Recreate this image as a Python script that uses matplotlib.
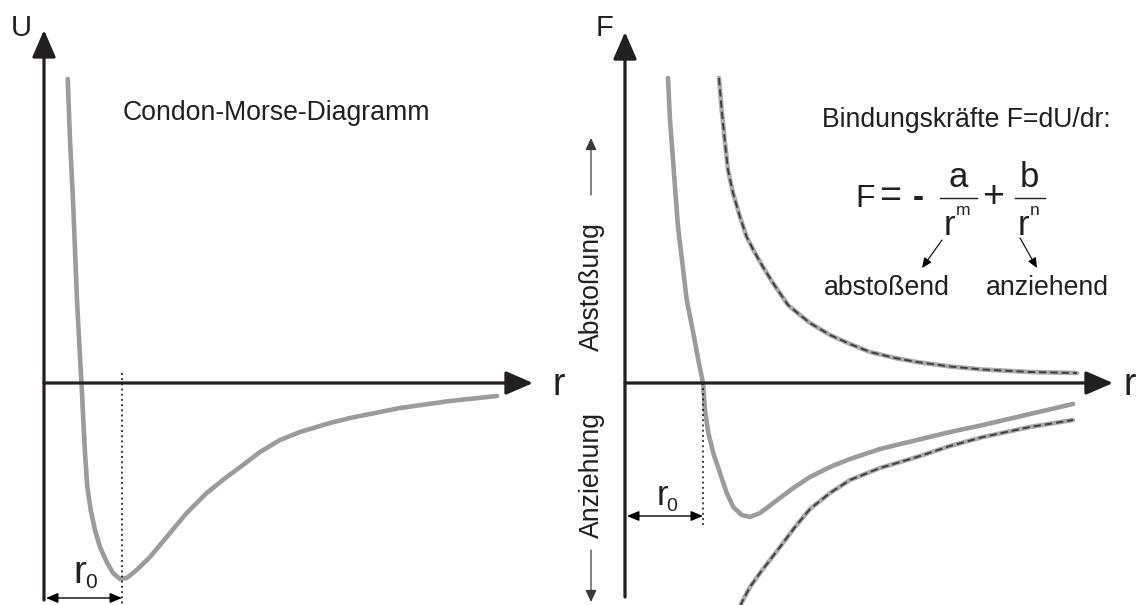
import matplotlib
matplotlib.use('Agg')
import matplotlib.pyplot as plt

plt.rcParams['font.family'] = ['Liberation Sans', 'DejaVu Sans']

# Condon-Morse potential U(r), left panel
r_u = [23.7, 26, 29, 33, 36.7, 37.7, 39.3, 41, 43.3, 46.7, 51, 56, 62.7, 69, 76, 82.7,
       92.7, 106, 122.7, 142.7, 162.7, 182.7, 199, 216, 236, 256, 286, 306, 356, 406, 453]
u = [304, 243, 183, 83, 13, -4, -37, -70, -104, -127, -147, -164, -179, -190, -196, -195,
     -187, -174, -154, -130, -110, -94, -82, -69, -57, -49, -40, -35, -25, -18, -13]

# binding force F(r), right panel
r_f = [43, 45, 48, 53, 57, 61.7, 68.3, 73.3, 78, 80, 83.3, 88.3, 95, 101.7, 108.3, 116.7,
       125, 135, 148.3, 168.3, 185, 205, 225, 255, 292, 325, 358, 405, 448]
f = [305, 263, 223, 156, 123, 83, 50, 23, 0, -27, -50, -70, -90, -110, -124, -132,
     -134, -130, -120, -105, -94, -84, -76, -66, -57, -49, -42, -31, -21]

# repulsive term b/r^n
r_rep = [94, 96.7, 100, 103, 108, 115, 121.7, 130, 138, 148, 163, 175, 185, 205, 225,
         245, 270, 292, 325, 358, 405, 452]
f_rep = [305, 273, 240, 213, 190, 166, 146, 130, 116, 100, 78, 68, 60, 48, 39,
         31, 25, 21, 16.5, 13.5, 11, 10]

# attractive term -a/r^m
r_att = [113, 117, 125, 135, 145, 155, 170, 185, 205, 225, 255, 292, 325, 358, 405, 448]
f_att = [-229, -219, -204, -190, -177, -164, -144, -126, -110, -97, -85, -74, -63, -54, -44, -37]

r0 = 78

ink = '#231f20'
curve = '#9b9b9b'

fig = plt.figure(figsize=(11.37, 6.05), dpi=100)
ax_l = fig.add_axes([0, 0, 1, 1])
ax_l.set_xlim(-44, 1093)
ax_l.set_ylim(-222, 383)
ax_r = fig.add_axes([0, 0, 1, 1])
ax_r.set_xlim(-625, 512)
ax_r.set_ylim(-222, 383)
for ax in (ax_l, ax_r):
    ax.axis('off')
    ax.patch.set_alpha(0)

big = dict(arrowstyle='-|>,head_length=0.83,head_width=0.36', lw=2.3, color=ink,
           shrinkA=0, shrinkB=0, mutation_scale=20)
dim = dict(arrowstyle='<|-|>,head_length=0.6,head_width=0.25', lw=1.0, color='black',
           shrinkA=0, shrinkB=0, mutation_scale=12)
thin = dict(arrowstyle='-|>,head_length=0.6,head_width=0.28', lw=0.9, color='#3a3a3a',
            shrinkA=0, shrinkB=0, mutation_scale=12)
small = dict(arrowstyle='-|>,head_length=0.5,head_width=0.22', lw=0.8, color='black',
             shrinkA=0, shrinkB=0, mutation_scale=12)
txt = 19.2

# left panel
ax_l.annotate('', xy=(0, 353), xytext=(0, -217), arrowprops=big)
ax_l.annotate('', xy=(489, 0), xytext=(0, 0), arrowprops=big)
ax_l.text(-23, 355, 'U', fontsize=21, ha='center', va='center', color=ink)
ax_l.text(515, -2, 'r', fontsize=27, ha='center', va='center', color=ink)
ax_l.plot(r_u, u, color=curve, lw=3.3, solid_capstyle='round', solid_joinstyle='round')
ax_l.plot([r0, r0], [10, -222], color='black', lw=1.1, ls=(0, (1.2, 2.2)))
ax_l.annotate('', xy=(r0, -215), xytext=(2, -215), arrowprops=dim)
ax_l.text(36, -200, 'r', fontsize=28, ha='center', va='baseline', color=ink)
ax_l.text(47, -205, '0', fontsize=15, ha='center', va='baseline', color=ink)
ax_l.text(79, 263, 'Condon-Morse-Diagramm', fontsize=txt, ha='left', va='baseline', color=ink)

# right panel
ax_r.annotate('', xy=(0, 351), xytext=(0, -214), arrowprops=big)
ax_r.annotate('', xy=(488, 0), xytext=(0, 0), arrowprops=big)
ax_r.text(-20, 355, 'F', fontsize=21, ha='center', va='center', color=ink)
ax_r.text(505, -2, 'r', fontsize=27, ha='center', va='center', color=ink)
ax_r.plot([r0, r0], [6, -5], color=ink, lw=1.2)
for rr, ff in ((r_rep, f_rep), (r_att, f_att)):
    ax_r.plot(rr, ff, color='#ababab', lw=3.3, solid_capstyle='round', solid_joinstyle='round')
    ax_r.plot(rr, ff, color='#3c3c3c', lw=1.4, ls=(0, (3.8, 2.0)))
ax_r.plot(r_f, f, color=curve, lw=3.3, solid_capstyle='round', solid_joinstyle='round')
ax_r.plot([r0, r0], [0, -142], color='black', lw=1.1, ls=(0, (1.2, 2.2)))
ax_r.annotate('', xy=(r0, -133), xytext=(2, -133), arrowprops=dim)
ax_r.text(37, -122, 'r', fontsize=25, ha='center', va='baseline', color=ink)
ax_r.text(47, -128, '0', fontsize=14, ha='center', va='baseline', color=ink)

# direction of the force
ax_r.text(-33, 96, 'Abstoßung', fontsize=txt, rotation=90, ha='center', va='center', color=ink)
ax_r.annotate('', xy=(-34, 245), xytext=(-34, 188), arrowprops=thin)
ax_r.text(-33, -92, 'Anziehung', fontsize=txt, rotation=90, ha='center', va='center', color=ink)
ax_r.annotate('', xy=(-34, -219), xytext=(-34, -167), arrowprops=thin)

# force law
ax_r.text(197, 256, 'Bindungskräfte F=dU/dr:', fontsize=txt, ha='left', va='baseline', color=ink)
ax_r.text(240, 176, 'F', fontsize=23, ha='center', va='baseline', color=ink)
ax_r.text(265, 176, '=', fontsize=27, ha='center', va='baseline', color=ink)
ax_r.text(293, 176, '-', fontsize=24, ha='center', va='baseline', color=ink, fontweight='bold')
ax_r.text(333, 196, 'a', fontsize=25, ha='center', va='baseline', color=ink)
ax_r.plot([315, 352], [185, 185], color=ink, lw=1.0)
ax_r.text(324, 148, 'r', fontsize=25, ha='center', va='baseline', color=ink)
ax_r.text(331, 168, 'm', fontsize=12.5, ha='left', va='baseline', color=ink)
ax_r.text(368, 176, '+', fontsize=27, ha='center', va='baseline', color=ink)
ax_r.text(404, 196, 'b', fontsize=25, ha='center', va='baseline', color=ink)
ax_r.plot([390, 420], [185, 185], color=ink, lw=1.0)
ax_r.text(398, 148, 'r', fontsize=25, ha='center', va='baseline', color=ink)
ax_r.text(405, 168, 'n', fontsize=12.5, ha='left', va='baseline', color=ink)
ax_r.annotate('', xy=(297, 115), xytext=(317, 143), arrowprops=small)
ax_r.annotate('', xy=(412, 115), xytext=(395, 145), arrowprops=small)
ax_r.text(262, 88, 'abstoßend', fontsize=txt, ha='center', va='baseline', color=ink)
ax_r.text(422, 88, 'anziehend', fontsize=txt, ha='center', va='baseline', color=ink)

fig.savefig('out.png', dpi=100, facecolor='white')
